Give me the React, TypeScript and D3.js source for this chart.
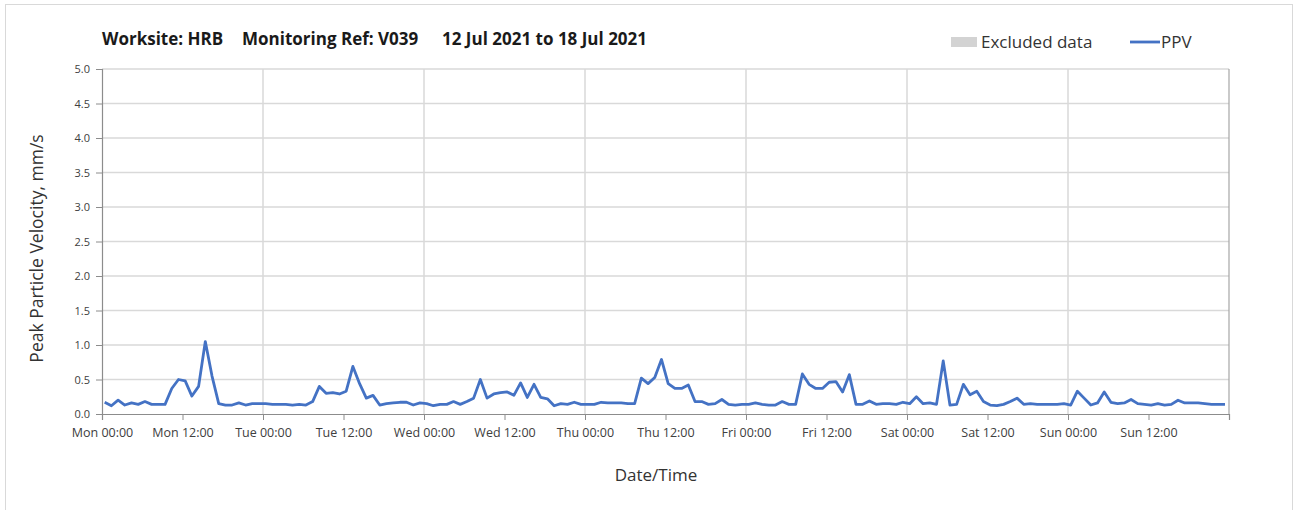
import * as d3 from "d3";
import { useEffect, useRef } from "react";

// hourly PPV readings (mm/s), one array per day
const monPPV = [0.17, 0.12, 0.2, 0.13, 0.16, 0.14, 0.18, 0.14, 0.14, 0.14, 0.37, 0.5, 0.48, 0.26, 0.4, 1.05, 0.55, 0.15, 0.13, 0.13, 0.16, 0.13, 0.15, 0.15];
const tuePPV = [0.15, 0.14, 0.14, 0.14, 0.13, 0.14, 0.13, 0.18, 0.4, 0.3, 0.31, 0.29, 0.33, 0.69, 0.44, 0.23, 0.27, 0.13, 0.15, 0.16, 0.17, 0.17, 0.13, 0.16];
const wedPPV = [0.15, 0.12, 0.14, 0.14, 0.18, 0.14, 0.18, 0.23, 0.5, 0.23, 0.29, 0.31, 0.32, 0.27, 0.45, 0.24, 0.43, 0.24, 0.22, 0.12, 0.15, 0.14, 0.17, 0.14];
const thuPPV = [0.14, 0.14, 0.17, 0.16, 0.16, 0.16, 0.15, 0.15, 0.52, 0.44, 0.53, 0.79, 0.44, 0.37, 0.37, 0.42, 0.18, 0.18, 0.14, 0.15, 0.21, 0.14, 0.13, 0.14];
const friPPV = [0.14, 0.16, 0.14, 0.13, 0.13, 0.18, 0.14, 0.14, 0.58, 0.43, 0.37, 0.37, 0.46, 0.47, 0.32, 0.57, 0.14, 0.14, 0.19, 0.14, 0.15, 0.15, 0.14, 0.17];
const satPPV = [0.15, 0.25, 0.15, 0.16, 0.14, 0.77, 0.13, 0.14, 0.43, 0.28, 0.33, 0.18, 0.13, 0.12, 0.14, 0.18, 0.23, 0.14, 0.15, 0.14, 0.14, 0.14, 0.14, 0.15];
const sunPPV = [0.13, 0.33, 0.23, 0.13, 0.16, 0.32, 0.17, 0.15, 0.16, 0.21, 0.15, 0.14, 0.13, 0.15, 0.13, 0.14, 0.2, 0.16, 0.16, 0.16, 0.15, 0.14, 0.14, 0.14];

const yTicks = [0, 0.5, 1, 1.5, 2, 2.5, 3, 3.5, 4, 4.5, 5];
const titleParts = ["Worksite: HRB", "Monitoring Ref: V039", "12 Jul 2021 to 18 Jul 2021"];
const legendLabels = ["Excluded data", "PPV"];

const FONT = "'Open Sans', 'Noto Sans', sans-serif";

export default function App() {
  const ref = useRef<SVGSVGElement | null>(null);

  useEffect(() => {
    const width = 1301;
    const height = 510;
    const margin = { top: 69, right: 72, bottom: 96, left: 102 };
    const svg = d3.select(ref.current);
    svg.selectAll("*").remove();

    const start = new Date(2021, 6, 12, 0, 0);
    const end = new Date(2021, 6, 19, 0, 0);
    const values = [...monPPV, ...tuePPV, ...wedPPV, ...thuPPV, ...friPPV, ...satPPV, ...sunPPV];
    // readings are logged ~24 min past each hour
    const data: [Date, number][] = values.map((v, i) => [new Date(2021, 6, 12, i, 24), v]);

    const x = d3.scaleTime().domain([start, end]).range([margin.left, width - margin.right]);
    const y = d3.scaleLinear().domain([0, 5]).range([height - margin.bottom, margin.top]);

    // outer frame
    svg
      .append("rect")
      .attr("x", 5.5)
      .attr("y", 4.5)
      .attr("width", 1287)
      .attr("height", 530)
      .attr("fill", "white")
      .attr("stroke", "#d9d9d9");

    // horizontal gridlines
    svg
      .append("g")
      .selectAll("line")
      .data(yTicks.filter((d) => d > 0))
      .join("line")
      .attr("x1", margin.left)
      .attr("x2", width - margin.right)
      .attr("y1", (d) => y(d))
      .attr("y2", (d) => y(d))
      .attr("stroke", "#d9d9d9")
      .attr("stroke-width", 1.5);

    // vertical day gridlines
    const days = d3.timeDay.range(d3.timeDay.offset(start, 1), end);
    svg
      .append("g")
      .selectAll("line")
      .data(days)
      .join("line")
      .attr("x1", (d) => x(d))
      .attr("x2", (d) => x(d))
      .attr("y1", margin.top)
      .attr("y2", height - margin.bottom)
      .attr("stroke", "#d9d9d9")
      .attr("stroke-width", 1.5);

    // right border of plot
    svg
      .append("line")
      .attr("x1", width - margin.right)
      .attr("x2", width - margin.right)
      .attr("y1", margin.top)
      .attr("y2", height - margin.bottom)
      .attr("stroke", "#a6a6a6")
      .attr("stroke-width", 1.2);

    // y axis
    const yAxis = svg
      .append("g")
      .attr("transform", `translate(${margin.left},0)`)
      .call(
        d3
          .axisLeft(y)
          .tickValues(yTicks)
          .tickFormat(d3.format(".1f"))
          .tickSize(6)
          .tickPadding(6)
      );
    yAxis.select(".domain").attr("stroke", "#8c8c8c").attr("stroke-width", 1.2);
    yAxis.selectAll(".tick line").attr("stroke", "#8c8c8c");
    yAxis
      .selectAll(".tick text")
      .attr("fill", "#404040")
      .style("font-family", FONT)
      .style("font-size", "11px");

    // x axis
    const ticks12 = d3.timeHour.every(12)!.range(start, d3.timeHour.offset(end, 1));
    const xAxis = svg
      .append("g")
      .attr("transform", `translate(0,${height - margin.bottom})`)
      .call(
        d3
          .axisBottom(x)
          .tickValues(ticks12)
          .tickFormat((d) => (+d >= +end ? "" : d3.timeFormat("%a %H:%M")(d as Date)))
          .tickSize(6)
          .tickPadding(8)
      );
    xAxis.select(".domain").attr("stroke", "#8c8c8c").attr("stroke-width", 1.2);
    xAxis.selectAll(".tick line").attr("stroke", "#8c8c8c");
    xAxis
      .selectAll(".tick text")
      .attr("fill", "#404040")
      .style("font-family", FONT)
      .style("font-size", "12.5px");

    // PPV line
    svg
      .append("path")
      .datum(data)
      .attr("fill", "none")
      .attr("stroke", "#4472C4")
      .attr("stroke-width", 2.8)
      .attr("stroke-linejoin", "round")
      .attr(
        "d",
        d3
          .line<[Date, number]>()
          .x((d) => x(d[0]))
          .y((d) => y(d[1]))
      );

    // title
    const titleX = [102, 242, 442];
    svg
      .append("g")
      .selectAll("text")
      .data(titleParts)
      .join("text")
      .attr("x", (_, i) => titleX[i])
      .attr("y", 45)
      .attr("fill", "#1a1a1a")
      .style("font-family", FONT)
      .style("font-size", "17px")
      .style("font-weight", "bold")
      .text((d) => d);

    // legend
    svg
      .append("rect")
      .attr("x", 951)
      .attr("y", 37)
      .attr("width", 26)
      .attr("height", 10)
      .attr("fill", "#d3d3d3");
    svg
      .append("line")
      .attr("x1", 1130)
      .attr("x2", 1160)
      .attr("y1", 42)
      .attr("y2", 42)
      .attr("stroke", "#4472C4")
      .attr("stroke-width", 2.8);
    svg
      .append("g")
      .selectAll("text")
      .data(legendLabels)
      .join("text")
      .attr("x", (_, i) => (i === 0 ? 981 : 1161))
      .attr("y", 48)
      .attr("fill", "#333")
      .style("font-family", FONT)
      .style("font-size", "17px")
      .text((d) => d);

    // axis titles
    svg
      .append("text")
      .attr("transform", `translate(43,${(margin.top + height - margin.bottom) / 2 + 7}) rotate(-90)`)
      .attr("text-anchor", "middle")
      .attr("fill", "#333")
      .style("font-family", FONT)
      .style("font-size", "17.5px")
      .text("Peak Particle Velocity, mm/s");
    svg
      .append("text")
      .attr("x", 656)
      .attr("y", 481)
      .attr("text-anchor", "middle")
      .attr("fill", "#333")
      .style("font-family", FONT)
      .style("font-size", "17px")
      .text("Date/Time");
  }, []);

  return (
    <div style={{ position: "absolute", left: 0, top: 0 }}>
      <svg ref={ref} width={1301} height={510} style={{ display: "block" }} />
    </div>
  );
}
